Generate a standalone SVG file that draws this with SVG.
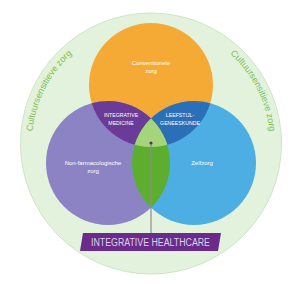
<svg xmlns="http://www.w3.org/2000/svg" width="300" height="284" viewBox="0 0 300 284">
<style>
.lbl{font-family:"Liberation Sans","Open Sans",sans-serif;fill:#ffffff;text-anchor:middle}
.s6{font-size:6px}
.s5{font-size:5.2px}
.arc{font-family:"Liberation Sans","Open Sans",sans-serif;font-size:9px;fill:#7dbe55}
.ban{font-family:"Liberation Sans","Open Sans",sans-serif;font-size:10px;fill:#ddd2ec;text-anchor:middle}
</style>
<defs>
<clipPath id="cO"><circle cx="151" cy="85" r="62"/></clipPath>
<clipPath id="cP"><circle cx="108" cy="163" r="62"/></clipPath>
<path id="ring" d="M151,262 A119,119 0 1,1 151,24 A119,119 0 1,1 151,262"/>
</defs>
<rect width="300" height="284" fill="#ffffff"/>
<g id="outer">
<circle cx="151" cy="143.5" r="130.5" fill="#e3f2dc" stroke="#cde6c2" stroke-width="1"/>
<text class="arc"><textPath href="#ring" startOffset="32.5%" text-anchor="middle">Cultuursensitieve zorg</textPath></text>
<text class="arc"><textPath href="#ring" startOffset="67.5%" text-anchor="middle">Cultuursensitieve zorg</textPath></text>
</g>
<g id="conventionele">
<circle cx="151" cy="85" r="62" fill="#f6aa36"/>
<text class="lbl s6" x="151" y="65">Conventionele</text>
<text class="lbl s6" x="151" y="73">zorg</text>
</g>
<g id="non-farmacologische">
<circle cx="108" cy="163" r="62" fill="#8c83c5"/>
<text class="lbl s6" x="93" y="165">Non-farmacologische</text>
<text class="lbl s6" x="93" y="173">zorg</text>
</g>
<g id="zelfzorg">
<circle cx="194" cy="163" r="62" fill="#4daee3"/>
<text class="lbl s6" x="202" y="165">Zelfzorg</text>
</g>
<g id="integrative-medicine">
<g clip-path="url(#cO)"><circle cx="108" cy="163" r="62" fill="#6b3b98"/></g>
<text class="lbl s5" x="121" y="117">INTEGRATIVE</text>
<text class="lbl s5" x="121" y="125.3">MEDICINE</text>
</g>
<g id="leefstijlgeneeskunde">
<g clip-path="url(#cO)"><circle cx="194" cy="163" r="62" fill="#2c6fb9"/></g>
<text class="lbl s5" x="180" y="117">LEEFSTIJL-</text>
<text class="lbl s5" x="180" y="125.3">GENEESKUNDE</text>
</g>
<g id="overlap">
<g clip-path="url(#cP)"><circle cx="194" cy="163" r="62" fill="#5dae2e"/></g>
<g clip-path="url(#cO)"><g clip-path="url(#cP)"><circle cx="194" cy="163" r="62" fill="#a5d57b"/></g></g>
</g>
<g id="connectors">
<line x1="151" y1="143" x2="151" y2="233" stroke="#8e8e8e" stroke-width="1.2"/>
<circle cx="151" cy="143" r="1.6" fill="#4a3d5c"/>
</g>
<g id="integrative-healthcare">
<polygon points="83,233 221,233 218,251 80,251" fill="#6a2b8c"/>
<text class="ban" x="150.5" y="246" textLength="119" lengthAdjust="spacingAndGlyphs">INTEGRATIVE HEALTHCARE</text>
</g>
</svg>
